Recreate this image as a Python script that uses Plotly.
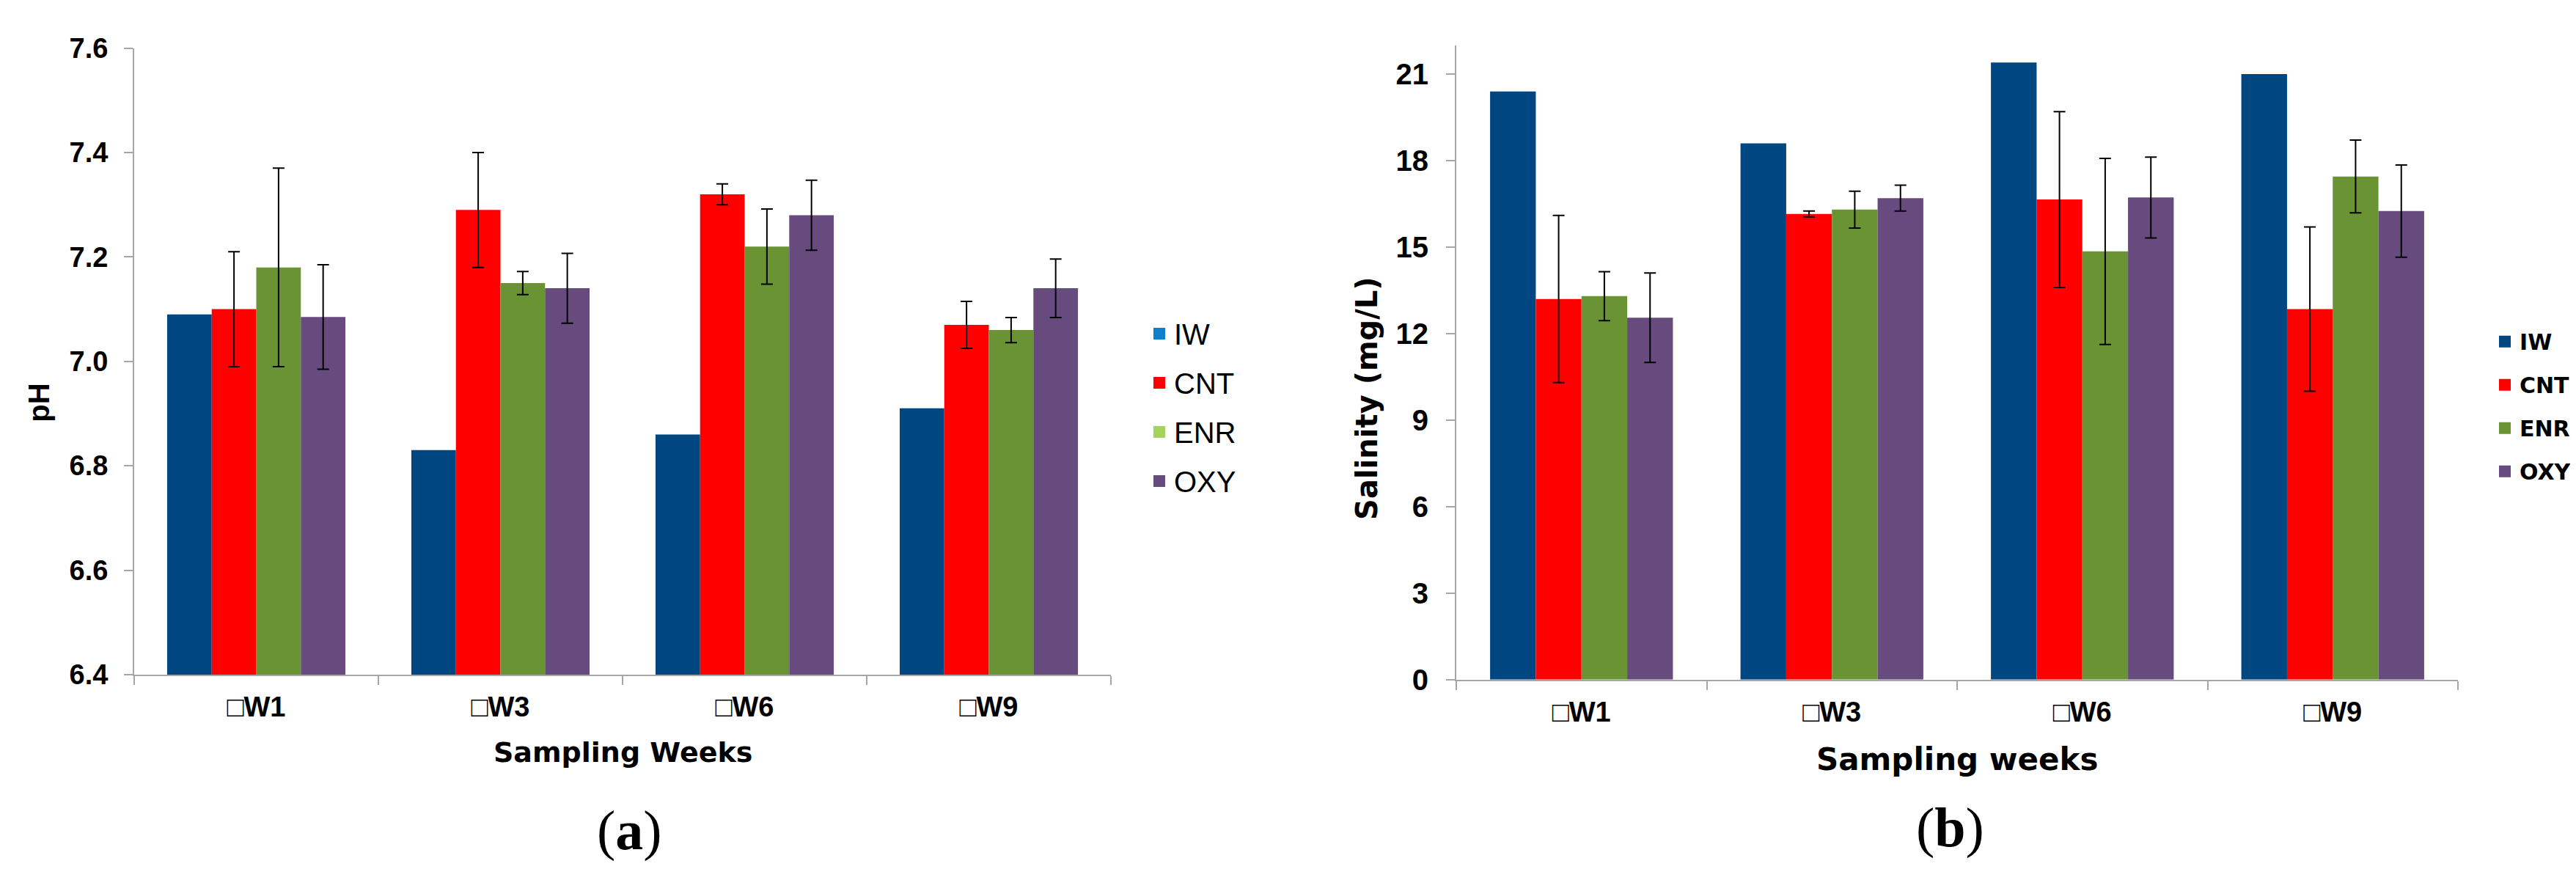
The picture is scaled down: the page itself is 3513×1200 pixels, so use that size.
import plotly.graph_objects as go

# Kategorien (Probenahme-Wochen)
weeks = ["□W1", "□W3", "□W6", "□W9"]
groups = ["IW", "CNT", "ENR", "OXY"]

# pH-Werte
ph_iw = [7.09, 6.83, 6.86, 6.91]
ph_cnt = [7.10, 7.29, 7.32, 7.07]
ph_enr = [7.18, 7.15, 7.22, 7.06]
ph_oxy = [7.085, 7.14, 7.28, 7.14]
ph_cnt_err = [0.11, 0.11, 0.02, 0.045]
ph_enr_err = [0.19, 0.022, 0.072, 0.024]
ph_oxy_err = [0.10, 0.067, 0.067, 0.056]

# Salinität (mg/L)
sal_iw = [20.4, 18.6, 21.4, 21.0]
sal_cnt = [13.2, 16.15, 16.65, 12.85]
sal_enr = [13.3, 16.3, 14.85, 17.45]
sal_oxy = [12.55, 16.7, 16.72, 16.25]
sal_cnt_err = [2.9, 0.1, 3.05, 2.85]
sal_enr_err = [0.85, 0.64, 3.23, 1.26]
sal_oxy_err = [1.55, 0.45, 1.4, 1.6]

# Farben
bar_colors = ["#004680", "#FF0000", "#6A9334", "#674A7E"]
legend_a_colors = ["#0A80CE", "#FF0000", "#A2D45E", "#674A7E"]

W, H = 3513, 1200


def px(x):
    return x / W


def py(y):
    return 1 - y / H


fig = go.Figure()

panels = [
    ("x", "y", [ph_iw, ph_cnt, ph_enr, ph_oxy], [None, ph_cnt_err, ph_enr_err, ph_oxy_err]),
    ("x2", "y2", [sal_iw, sal_cnt, sal_enr, sal_oxy], [None, sal_cnt_err, sal_enr_err, sal_oxy_err]),
]

for xa, ya, series, errs in panels:
    for name, vals, err, col in zip(groups, series, errs, bar_colors):
        bar = dict(
            x=weeks, y=vals, name=name, xaxis=xa, yaxis=ya,
            marker=dict(color=col, line=dict(width=0)),
            showlegend=False,
        )
        if err is not None:
            bar["error_y"] = dict(type="data", array=err, color="black", thickness=2, width=8)
        fig.add_trace(go.Bar(**bar))

# Legenden (nur Symbole)
for name, col in zip(groups, legend_a_colors):
    fig.add_trace(go.Scatter(
        x=[None], y=[None], xaxis="x", yaxis="y", mode="markers", name=name,
        marker=dict(symbol="square", size=22, color=col), legend="legend", legendgroup="a" + name,
    ))
for name, col in zip(groups, bar_colors):
    fig.add_trace(go.Scatter(
        x=[None], y=[None], xaxis="x2", yaxis="y2", mode="markers", name=name,
        marker=dict(symbol="square", size=17, color=col), legend="legend2", legendgroup="b" + name,
    ))

axis_line = "#A6A6A6"
tick_font = dict(family="Liberation Sans, Arial", size=38, color="black", weight="bold")

common_x = dict(
    type="category", showline=True, linecolor=axis_line, linewidth=2,
    ticks="outside", tickson="boundaries", ticklen=12, tickcolor=axis_line, tickwidth=2,
    showgrid=False, tickfont=tick_font, ticklabelstandoff=10, fixedrange=True,
)
common_y = dict(
    showline=True, linecolor=axis_line, linewidth=2, ticks="outside", ticklen=12,
    tickcolor=axis_line, tickwidth=2, showgrid=False, zeroline=False,
)

fig.update_layout(
    width=W, height=H,
    margin=dict(l=0, r=0, t=0, b=0),
    plot_bgcolor="white", paper_bgcolor="white",
    barmode="group", bargap=0.27, bargroupgap=0,
    xaxis=dict(domain=[px(175), px(1507)], anchor="y", **common_x),
    yaxis=dict(domain=[py(924), py(38)], anchor="x", range=[6.4, 7.6], dtick=0.2,
               tickformat=".1f", tickfont=tick_font, ticklabelstandoff=14, **common_y),
    xaxis2=dict(domain=[px(1978), px(3344)], anchor="y2", **common_x),
    yaxis2=dict(domain=[py(931), py(34)], anchor="x2", range=[0, 22], dtick=3,
                tickfont=dict(family="Liberation Sans, Arial", size=40, color="black", weight="bold"),
                ticklabelstandoff=16, **common_y),
    legend=dict(
        x=px(1553), y=py(408), xanchor="left", yanchor="top",
        font=dict(family="Liberation Sans, Arial", size=40, color="black"),
        traceorder="grouped", tracegroupgap=12, itemwidth=30, bgcolor="rgba(0,0,0,0)",
    ),
    legend2=dict(
        x=px(3388), y=py(426), xanchor="left", yanchor="top",
        font=dict(family="DejaVu Sans", size=30, color="black", weight="bold"),
        traceorder="grouped", tracegroupgap=17, itemwidth=30, bgcolor="rgba(0,0,0,0)",
    ),
)

title_font_a = dict(family="DejaVu Sans", size=38, color="black", weight="bold")
title_font_b = dict(family="DejaVu Sans", size=42, color="black", weight="bold")
label_font = dict(family="Liberation Serif, Times New Roman", size=76, color="black")

annotations = [
    dict(text="pH", x=px(45), y=py(540), textangle=-90,
         font=dict(family="Liberation Sans, Arial", size=40, color="black", weight="bold")),
    dict(text="Sampling Weeks", x=px(841), y=py(1034), font=title_font_a),
    dict(text="(<b>a</b>)", x=px(850), y=py(1145), font=label_font),
    dict(text="Salinity (mg/L)", x=px(1856), y=py(533), textangle=-90,
         font=dict(family="DejaVu Sans", size=40, color="black", weight="bold")),
    dict(text="Sampling weeks", x=px(2661), y=py(1044), font=title_font_b),
    dict(text="(<b>b</b>)", x=px(2651), y=py(1140), font=label_font),
]
for a in annotations:
    a.update(xref="paper", yref="paper", showarrow=False, xanchor="center", yanchor="middle")
fig.update_layout(annotations=annotations)

fig.write_html("out.html")
